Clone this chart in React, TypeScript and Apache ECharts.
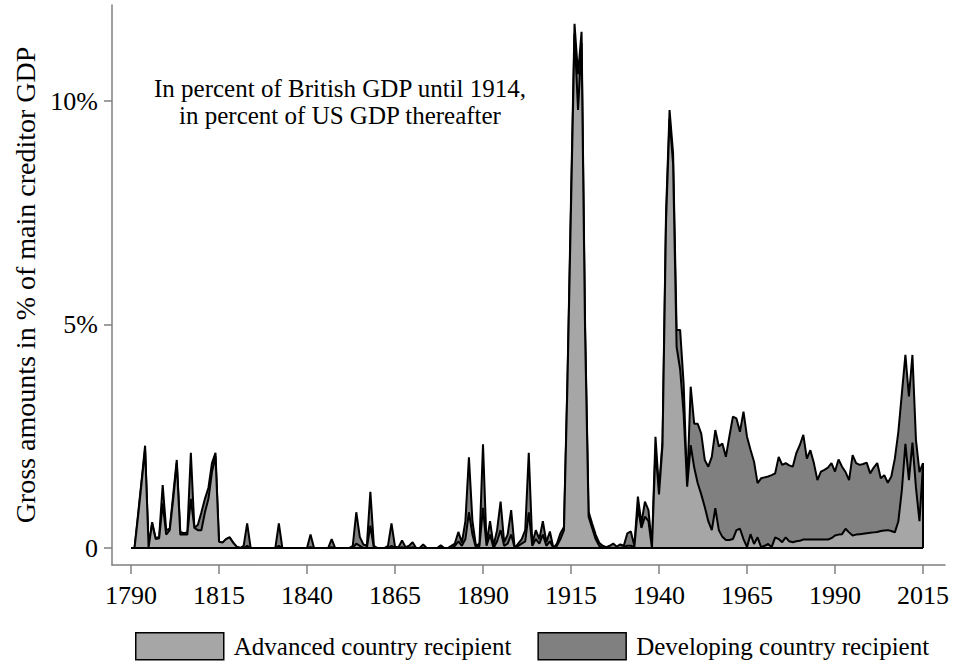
import React, { useEffect, useRef } from 'react';
import * as echarts from 'echarts';

// Annual observations, 1790-2015 (gross amounts, % of main creditor GDP)
const firstYear = 1790;

// Total (advanced + developing recipients) - outer outline
const totalAmounts = [
  // 1790s
  0, 0, 0.75, 1.5, 2.29, 0.02, 0.58, 0.22, 0.25, 1.41,
  // 1800s
  0.4, 0.43, 1.2, 1.97, 0.36, 0.33, 0.35, 2.13, 0.45, 0.52,
  // 1810s
  0.8, 1.1, 1.35, 1.9, 2.13, 0.14, 0.12, 0.2, 0.24, 0.12,
  // 1820s
  0.03, 0, 0.05, 0.55, 0, 0, 0, 0, 0, 0,
  // 1830s
  0, 0, 0.55, 0, 0, 0, 0, 0, 0, 0,
  // 1840s
  0, 0.3, 0, 0, 0, 0, 0, 0.2, 0, 0,
  // 1850s
  0, 0, 0, 0.05, 0.8, 0.25, 0.08, 0.05, 1.26, 0.05,
  // 1860s
  0, 0, 0, 0.05, 0.55, 0.03, 0.02, 0.17, 0.02, 0.05,
  // 1870s
  0.13, 0, 0, 0.08, 0, 0, 0, 0, 0.06, 0,
  // 1880s
  0, 0.05, 0.1, 0.36, 0.12, 0.6, 2.03, 0.6, 0.05, 0.1,
  // 1890s
  2.32, 0.1, 0.6, 0.05, 0.4, 1.04, 0.13, 0.3, 0.85, 0.0,
  // 1900s
  0.1, 0.2, 0.4, 2.13, 0.1, 0.4, 0.2, 0.6, 0.13, 0.37,
  // 1910s
  0.0, 0.1, 0.33, 0.47, 3.8, 7.8, 11.73, 10.6, 11.55, 5.0,
  // 1920s
  0.81, 0.55, 0.3, 0.12, 0.05, 0.02, 0.05, 0.1, 0.03, 0.08,
  // 1930s
  0.05, 0.33, 0.37, 0.05, 1.15, 0.55, 1.04, 0.85, 0.03, 2.49,
  // 1940s
  1.3, 2.4, 7.5, 9.8, 8.83, 4.88, 4.88, 3.67, 1.37, 3.61,
  // 1950s
  2.78, 2.78, 2.56, 1.97, 1.82, 2.04, 2.64, 2.27, 2.34, 2.04,
  // 1960s
  2.5, 2.94, 2.9, 2.6, 3.05, 2.49, 2.2, 1.93, 1.45, 1.56,
  // 1970s
  1.58, 1.6, 1.63, 1.67, 2.04, 1.86, 1.9, 1.85, 1.82, 2.12,
  // 1980s
  2.3, 2.53, 2.0, 2.19, 1.9, 1.52, 1.71, 1.75, 1.8, 1.9,
  // 1990s
  1.71, 1.98, 1.82, 1.7, 1.52, 2.08, 1.9, 1.86, 1.88, 1.91,
  // 2000s
  1.67, 1.8, 1.9, 1.56, 1.63, 1.46, 1.6, 2.0, 2.6, 3.46,
  // 2010s
  4.32, 3.39, 4.32, 2.42, 1.7, 1.9,
];

// Advanced country recipients - inner (light) area
const advancedAmounts = [
  // 1790s
  0, 0, 0.7, 1.45, 2.2, 0.02, 0.55, 0.2, 0.22, 1.0,
  // 1800s
  0.3, 0.4, 1.1, 1.9, 0.3, 0.3, 0.3, 1.1, 0.45, 0.4,
  // 1810s
  0.4, 0.8, 1.1, 1.7, 2.05, 0.14, 0.12, 0.2, 0.24, 0.12,
  // 1820s
  0.03, 0, 0, 0.05, 0, 0, 0, 0, 0, 0,
  // 1830s
  0, 0, 0.05, 0, 0, 0, 0, 0, 0, 0,
  // 1840s
  0, 0.02, 0, 0, 0, 0, 0, 0.02, 0, 0,
  // 1850s
  0, 0, 0, 0, 0.1, 0.05, 0, 0, 0.5, 0,
  // 1860s
  0, 0, 0, 0, 0.05, 0, 0, 0.02, 0, 0,
  // 1870s
  0.02, 0, 0, 0, 0, 0, 0, 0, 0, 0,
  // 1880s
  0, 0, 0.05, 0.15, 0.05, 0.2, 0.8, 0.3, 0, 0.05,
  // 1890s
  0.9, 0.05, 0.3, 0, 0.15, 0.4, 0.05, 0.1, 0.3, 0,
  // 1900s
  0.05, 0.1, 0.15, 0.8, 0.05, 0.2, 0.1, 0.3, 0.05, 0.15,
  // 1910s
  0, 0.05, 0.2, 0.4, 3.7, 7.6, 11.5, 9.8, 11.3, 4.8,
  // 1920s
  0.7, 0.45, 0.2, 0.05, 0, 0, 0, 0, 0, 0,
  // 1930s
  0.02, 0.05, 0.05, 0.02, 0.9, 0.45, 0.7, 0.6, 0, 2.2,
  // 1940s
  1.2, 2.3, 7.3, 9.6, 8.6, 4.5, 4.0, 3.0, 1.37, 2.3,
  // 1950s
  1.8, 1.45, 1.2, 0.92, 0.6, 0.4, 0.89, 0.4, 0.25, 0.18,
  // 1960s
  0.18, 0.2, 0.4, 0.43, 0.2, 0.02, 0.31, 0.09, 0.24, 0.02,
  // 1970s
  0.05, 0.09, 0.02, 0.24, 0.2, 0.13, 0.24, 0.15, 0.13, 0.15,
  // 1980s
  0.16, 0.19, 0.19, 0.19, 0.19, 0.19, 0.19, 0.19, 0.19, 0.22,
  // 1990s
  0.28, 0.3, 0.31, 0.43, 0.35, 0.28, 0.3, 0.31, 0.32, 0.33,
  // 2000s
  0.34, 0.35, 0.36, 0.38, 0.39, 0.4, 0.38, 0.35, 0.6, 1.3,
  // 2010s
  2.33, 1.52, 2.36, 1.35, 0.6, 1.85,
];

const xTickYears = [1790, 1815, 1840, 1865, 1890, 1915, 1940, 1965, 1990, 2015];
const yTickValues = [0, 5, 10];
const advancedName = 'Advanced country recipient';
const developingName = 'Developing country recipient';
const yTitle = 'Gross amounts in % of main creditor GDP';
const noteLines = ['In percent of British GDP until 1914,', 'in percent of US GDP thereafter'];

const serif = '"Liberation Serif", "Times New Roman", serif';
const lightGrey = '#a6a6a6';
const darkGrey = '#808080';
const axisGrey = '#7f7f7f';

export default function App() {
  const ref = useRef<HTMLDivElement>(null);

  useEffect(() => {
    if (!ref.current) return;
    const chart = echarts.init(ref.current, undefined, { renderer: 'svg' });

    const years = totalAmounts.map((_, i) => firstYear + i);
    const totalData = years.map((y, i) => [y, totalAmounts[i]]);
    const advData = years.map((y, i) => [y, advancedAmounts[i]]);
    const lastYear = years[years.length - 1];
    const lastTotal = totalAmounts[totalAmounts.length - 1];

    const option: any = {
      animation: false,
      backgroundColor: '#ffffff',
      grid: { left: 112, right: 8, top: 5, bottom: 98, containLabel: false },
      xAxis: {
        type: 'value',
        min: 1784.6,
        max: 2021.25,
        axisLine: { show: true, onZero: false, lineStyle: { color: axisGrey, width: 1.5 } },
        axisTick: {
          show: true,
          customValues: xTickYears,
          length: 9,
          lineStyle: { color: axisGrey, width: 1.5 },
        },
        axisLabel: {
          customValues: xTickYears,
          formatter: (v: number) => String(v),
          fontFamily: serif,
          fontSize: 26,
          color: '#000',
          margin: 17,
        },
        splitLine: { show: false },
      },
      yAxis: {
        type: 'value',
        min: -0.38,
        max: 12.15,
        name: yTitle,
        nameLocation: 'middle',
        nameGap: 71,
        nameTextStyle: { fontFamily: serif, fontSize: 28, color: '#000' },
        axisLine: { show: true, onZero: false, lineStyle: { color: axisGrey, width: 1.5 } },
        axisTick: {
          show: true,
          customValues: yTickValues,
          length: 8,
          lineStyle: { color: axisGrey, width: 1.5 },
        },
        axisLabel: {
          customValues: yTickValues,
          formatter: (v: number) => (v === 0 ? '0' : v + '%'),
          fontFamily: serif,
          fontSize: 26,
          color: '#000',
          margin: 14,
        },
        splitLine: { show: false },
      },
      legend: {
        data: [
          { name: advancedName, itemStyle: { color: lightGrey, borderColor: '#000', borderWidth: 1.5 } },
          { name: developingName, itemStyle: { color: darkGrey, borderColor: '#000', borderWidth: 1.5 } },
        ],
        icon: 'rect',
        left: 130,
        top: 627,
        itemWidth: 88,
        itemHeight: 27,
        itemGap: 26,
        selectedMode: false,
        textStyle: { fontFamily: serif, fontSize: 25, color: '#000', padding: [0, 0, 0, 5] },
      },
      graphic: [
        {
          type: 'text',
          x: 340,
          y: 75,
          silent: true,
          style: {
            text: noteLines.join('\n'),
            fill: '#000',
            font: `25px ${serif}`,
            textAlign: 'center',
            textVerticalAlign: 'top',
            lineHeight: 27,
          },
        },
      ],
      series: [
        {
          name: developingName,
          type: 'line',
          data: totalData,
          symbol: 'none',
          z: 2,
          lineStyle: { color: '#000', width: 2 },
          itemStyle: { color: darkGrey },
          areaStyle: { color: darkGrey, opacity: 1 },
        },
        {
          name: advancedName,
          type: 'line',
          data: advData,
          symbol: 'none',
          z: 3,
          lineStyle: { color: '#000', width: 2 },
          itemStyle: { color: lightGrey },
          areaStyle: { color: lightGrey, opacity: 1 },
          markLine: {
            silent: true,
            symbol: 'none',
            label: { show: false },
            lineStyle: { color: '#000', width: 2, type: 'solid' },
            data: [
              [{ coord: [firstYear, 0] }, { coord: [lastYear, 0] }],
              [{ coord: [lastYear, 0] }, { coord: [lastYear, lastTotal] }],
            ],
          },
        },
      ],
    };

    chart.setOption(option);
    return () => chart.dispose();
  }, []);

  return (
    <div
      ref={ref}
      style={{ position: 'fixed', left: 0, top: 0, width: 953, height: 663, background: '#fff' }}
    />
  );
}
